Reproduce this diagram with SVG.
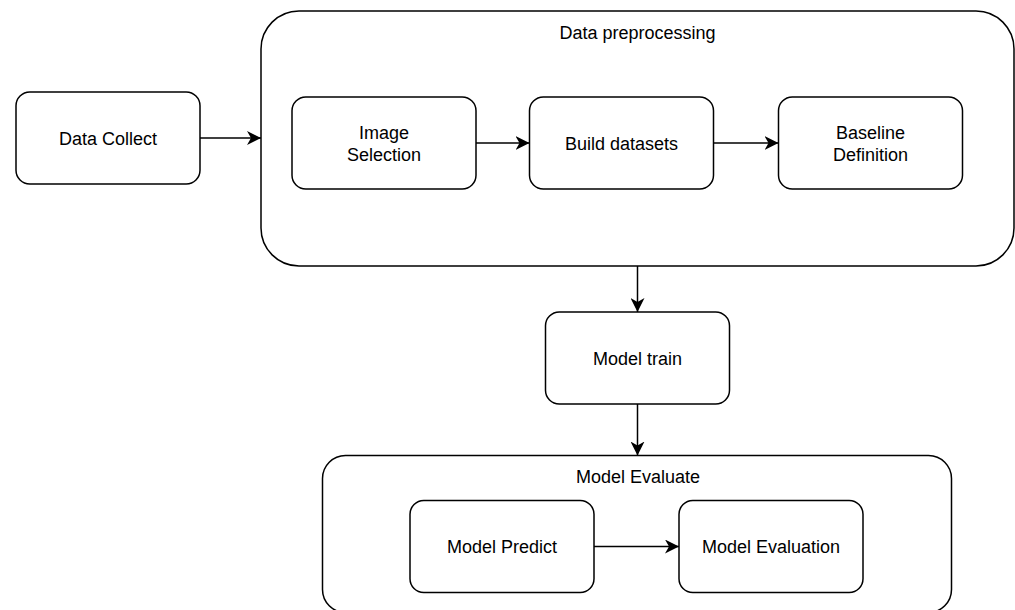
<svg xmlns="http://www.w3.org/2000/svg" width="1015" height="610" viewBox="0 0 1015 610">
<style>
.box{fill:#fff;stroke:#000;stroke-width:1.5}
.lbl{font-family:"Liberation Sans",Arial,sans-serif;font-size:18px;fill:#000;text-anchor:middle}
.edge{fill:none;stroke:#000;stroke-width:1.5}
</style>
<defs>
<marker id="arr" viewBox="0 0 14 14" refX="14" refY="7" markerWidth="14" markerHeight="14" markerUnits="userSpaceOnUse" orient="auto">
<path d="M0,0 L14,7 L0,14 L4,7 Z" fill="#000"/>
</marker>
</defs>
<rect width="1015" height="610" fill="#fff"/>
<g id="data-preprocessing">
<rect class="box" x="261" y="11" width="753" height="255" rx="38"/>
<text class="lbl" x="637.5" y="38.5">Data preprocessing</text>
</g>
<g id="model-evaluate">
<rect class="box" x="322.5" y="455.5" width="629" height="157" rx="23"/>
<text class="lbl" x="638" y="483">Model Evaluate</text>
</g>
<g id="data-collect">
<rect class="box" x="16" y="92" width="184" height="92" rx="13.8"/>
<text class="lbl" x="108" y="144.5">Data Collect</text>
</g>
<g id="image-selection">
<rect class="box" x="292" y="97" width="184" height="92" rx="13.8"/>
<text class="lbl" x="384" y="138.5">Image</text>
<text class="lbl" x="384" y="161">Selection</text>
</g>
<g id="build-datasets">
<rect class="box" x="529.5" y="97" width="184" height="92" rx="13.8"/>
<text class="lbl" x="621.5" y="149.5">Build datasets</text>
</g>
<g id="baseline-definition">
<rect class="box" x="778.5" y="97" width="184" height="92" rx="13.8"/>
<text class="lbl" x="870.5" y="138.5">Baseline</text>
<text class="lbl" x="870.5" y="161">Definition</text>
</g>
<g id="model-train">
<rect class="box" x="545.5" y="312" width="184" height="92" rx="13.8"/>
<text class="lbl" x="637.5" y="364.5">Model train</text>
</g>
<g id="model-predict">
<rect class="box" x="410" y="500.5" width="184" height="92" rx="13.8"/>
<text class="lbl" x="502" y="552.5">Model Predict</text>
</g>
<g id="model-evaluation">
<rect class="box" x="679" y="500.5" width="184" height="92" rx="13.8"/>
<text class="lbl" x="771" y="552.5">Model Evaluation</text>
</g>
<g id="connectors">
<line class="edge" x1="200" y1="138" x2="261" y2="138" marker-end="url(#arr)"/>
<line class="edge" x1="476" y1="143" x2="529.5" y2="143" marker-end="url(#arr)"/>
<line class="edge" x1="713.5" y1="143" x2="778.5" y2="143" marker-end="url(#arr)"/>
<line class="edge" x1="637.5" y1="266" x2="637.5" y2="312" marker-end="url(#arr)"/>
<line class="edge" x1="637.5" y1="404" x2="637.5" y2="455.5" marker-end="url(#arr)"/>
<line class="edge" x1="594" y1="546.5" x2="679" y2="546.5" marker-end="url(#arr)"/>
</g>
</svg>
